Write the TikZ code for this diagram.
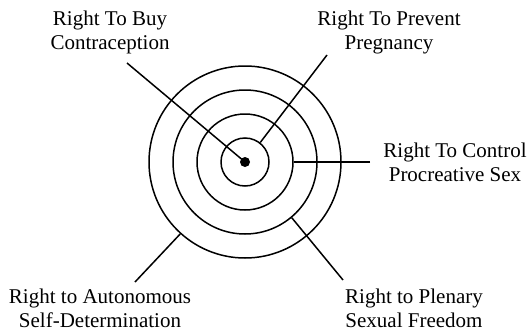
\documentclass[tikz,border=0pt]{standalone}
\usepackage{fontspec}
\setmainfont{Liberation Serif}
\usetikzlibrary{positioning, calc}

\begin{document}
\begin{tikzpicture}[
        x=1pt, y=1pt,
        font=\fontsize{21}{24}\selectfont,
        % Styles
        ring/.style={% For the rings
            circle,
            draw,
            line width=1.5pt,
            inner sep=0pt,
            minimum size=#1,
            },
        core/.style={% For the dot in the middle
            circle,
            fill,
            inner sep=0pt,
            minimum size=10pt,
            },
        right/.style={% For the text of each right
            align=center,
            inner sep=1pt,
            },
        Link/.style={% Lines from text to ring
            line width=1.5pt,
            },
        ]

    \useasboundingbox (0,0) rectangle (529,333);

    % Nodes
        % Draw the rings named ring#
        \node [ring=48pt]  (ring1) at (245,171) {};
        \node [ring=96pt]  (ring2) at (245,171) {};
        \node [ring=144pt] (ring3) at (245,171) {};
        \node [ring=192pt] (ring4) at (245,171) {};
        \node [core] (dot) at (245,171) {};

        % Draw the rights
        \node [right] (buy) at (110,301) {Right To Buy\\Contraception};
        \node [right] (prevent) at (389,301) {Right To Prevent\\Pregnancy};
        \node [right] (control) at (455,171) {Right To Control\\Procreative Sex};
        \node [right] (autonomous) at (100,25) {Right to Autonomous\\Self-Determination};
        \node [right] (plenary) at (414,25) {Right to Plenary\\Sexual Freedom};

        % Free ends of the lines
        \coordinate (buyend) at (127,270);
        \coordinate (preventend) at (327,278);
        \coordinate (controlend) at (370,171);
        \coordinate (autonomousend) at (135,51);
        \coordinate (plenaryend) at (343,53);

    % Connect all.
        \draw [Link] (buyend) -- (dot.center);
        \draw [Link] (preventend) -- (ring1.52.5);
        \draw [Link] (controlend) -- (ring2.0);
        \draw [Link] (plenaryend) -- (ring3.-50.3);
        \draw [Link] (autonomousend) -- (ring4.-132.5);

\end{tikzpicture}
\end{document}
